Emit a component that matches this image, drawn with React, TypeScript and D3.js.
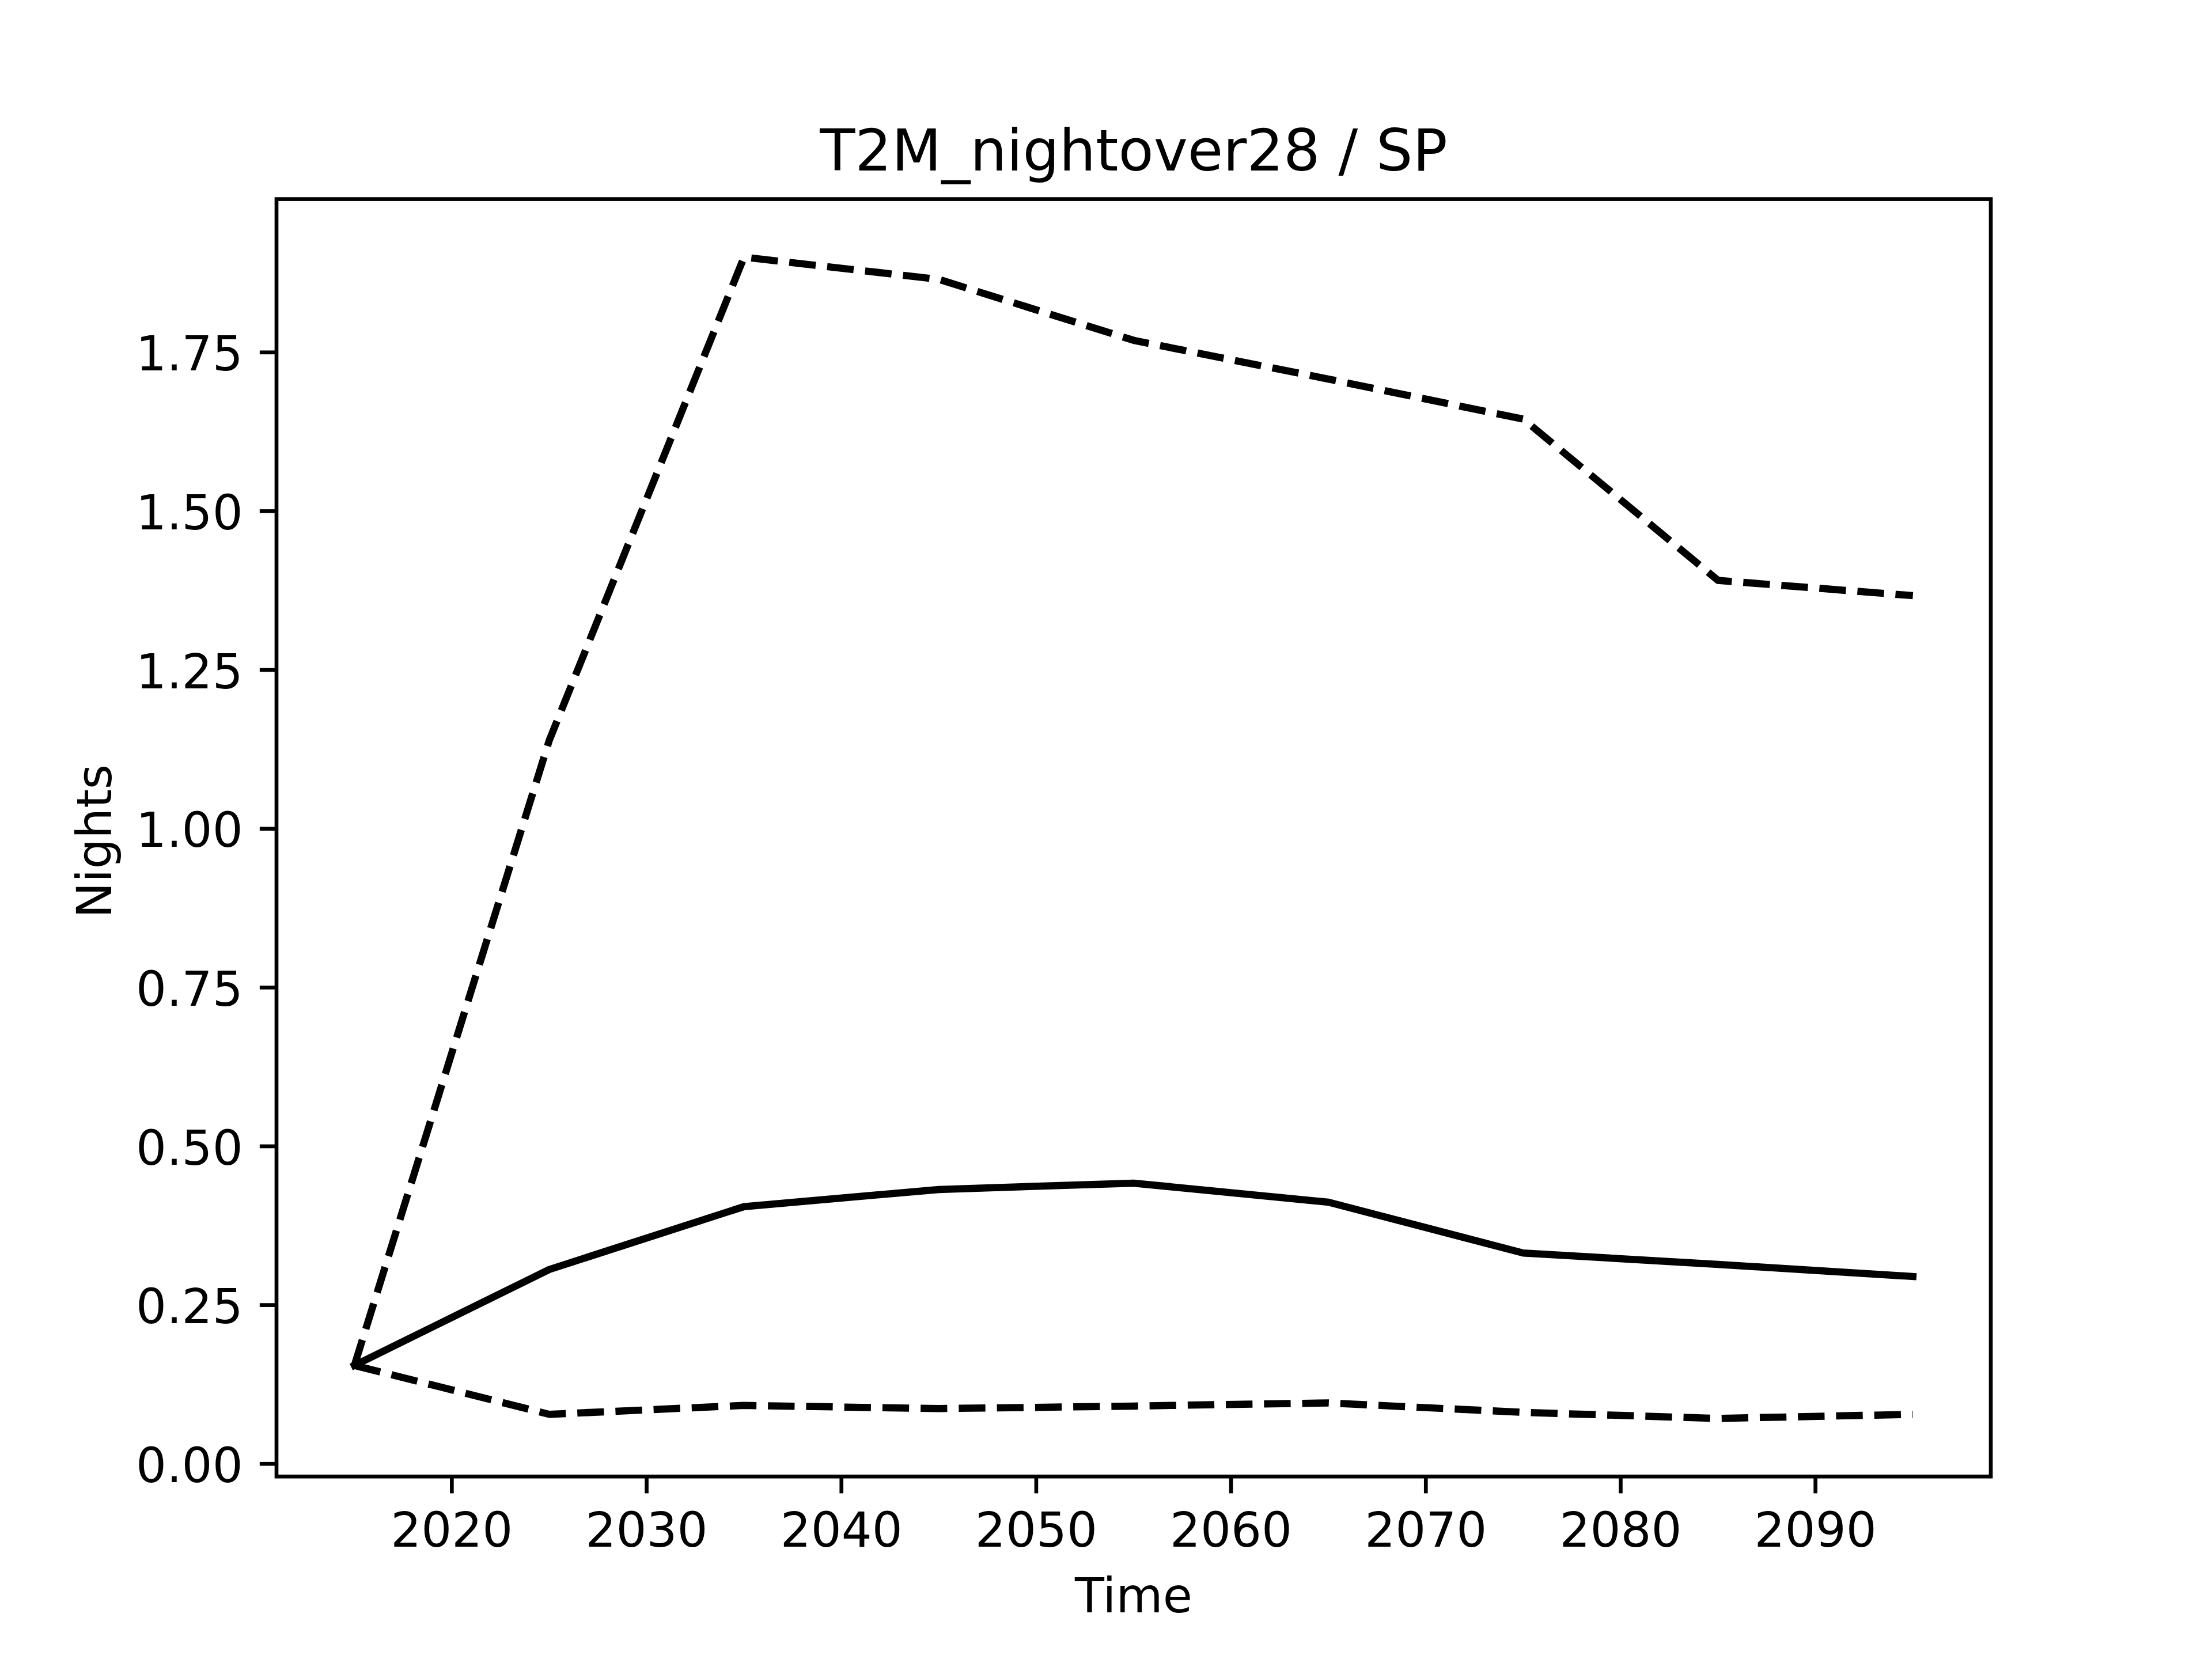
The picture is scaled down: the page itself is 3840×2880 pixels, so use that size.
import React from "react";
import * as d3 from "d3";

const years = [2015, 2025, 2035, 2045, 2055, 2065, 2075, 2085, 2095];
const meanValues = [0.155, 0.306, 0.405, 0.432, 0.442, 0.412, 0.332, 0.314, 0.295];
const upperValues = [0.155, 1.139, 1.900, 1.865, 1.769, 1.708, 1.645, 1.391, 1.367];
const lowerValues = [0.155, 0.078, 0.092, 0.087, 0.091, 0.096, 0.081, 0.0715, 0.078];
const xTicks = [2020, 2030, 2040, 2050, 2060, 2070, 2080, 2090];
const yTicks = [0, 0.25, 0.5, 0.75, 1.0, 1.25, 1.5, 1.75];
const titleText = "T2M_nightover28 / SP";
const xLabel = "Time";
const yLabel = "Nights";

const W = 3840;
const H = 2880;
const DPI = 600;
const pt = (v: number) => (v * DPI) / 72;

export default function App() {
  const left = 0.125 * W;
  const right = 0.9 * W;
  const top = (1 - 0.88) * H;
  const bottom = (1 - 0.11) * H;

  const xExt = d3.extent(years) as [number, number];
  const xPad = (xExt[1] - xExt[0]) * 0.05;
  const allY = [...meanValues, ...upperValues, ...lowerValues];
  const yExt = d3.extent(allY) as [number, number];
  const yPad = (yExt[1] - yExt[0]) * 0.05;

  const x = d3.scaleLinear().domain([xExt[0] - xPad, xExt[1] + xPad]).range([left, right]);
  const y = d3.scaleLinear().domain([yExt[0] - yPad, yExt[1] + yPad]).range([bottom, top]);

  const line = d3
    .line<number>()
    .x((_, i) => x(years[i]))
    .y((d) => y(d));

  const fs = pt(10);
  const titleFs = pt(12);
  const lw = pt(1.5);
  const axLw = pt(0.8);
  const tickLen = pt(3.5);
  const tickPad = pt(3.5);
  const labelPad = pt(4);
  const font = "DejaVu Sans";
  const dash = `${pt(3.7 * 1.5)},${pt(1.6 * 1.5)}`;

  const xTickTop = bottom + tickLen + tickPad;
  const xTickBaseline = xTickTop + 0.76 * fs;
  const xLabelTop = xTickTop + 0.968 * fs + labelPad;
  const xLabelBaseline = xLabelTop + 0.76 * fs;

  const yTickRight = left - tickLen - tickPad;
  const yTickWidth = (3 * 0.636 + 0.318) * fs;
  const yLabelRight = yTickRight - yTickWidth - labelPad;
  const yLabelBaseline = yLabelRight - 0.208 * fs + 7;
  const yMid = (top + bottom) / 2;
  const xMid = (left + right) / 2;

  const fmt = d3.format(".2f");

  return (
    <svg
      width={W}
      height={H}
      viewBox={`0 0 ${W} ${H}`}
      style={{ position: "absolute", left: 0, top: 0, background: "#fff" }}
      fontFamily={font}
    >
      <rect x={0} y={0} width={W} height={H} fill="#fff" />
      <text x={xMid} y={top - pt(6)} fontSize={titleFs} textAnchor="middle" fill="#000">
        {titleText}
      </text>

      <g>
        <path d={line(upperValues) || ""} fill="none" stroke="#000" strokeWidth={lw} strokeDasharray={dash} strokeLinejoin="round" strokeLinecap="butt" />
        <path d={line(meanValues) || ""} fill="none" stroke="#000" strokeWidth={lw} strokeLinejoin="round" strokeLinecap="square" />
        <path d={line(lowerValues) || ""} fill="none" stroke="#000" strokeWidth={lw} strokeDasharray={dash} strokeLinejoin="round" strokeLinecap="butt" />
      </g>

      <rect x={left} y={top} width={right - left} height={bottom - top} fill="none" stroke="#000" strokeWidth={axLw} strokeLinejoin="miter" />

      {xTicks.map((t) => (
        <g key={`x${t}`}>
          <line x1={x(t)} x2={x(t)} y1={bottom} y2={bottom + tickLen} stroke="#000" strokeWidth={axLw} />
          <text x={x(t)} y={xTickBaseline} fontSize={fs} textAnchor="middle" fill="#000">
            {t}
          </text>
        </g>
      ))}
      {yTicks.map((t) => (
        <g key={`y${t}`}>
          <line x1={left} x2={left - tickLen} y1={y(t)} y2={y(t)} stroke="#000" strokeWidth={axLw} />
          <text x={yTickRight} y={y(t) + 0.38 * fs} fontSize={fs} textAnchor="end" fill="#000">
            {fmt(t)}
          </text>
        </g>
      ))}

      <text x={xMid} y={xLabelBaseline} fontSize={fs} textAnchor="middle" fill="#000">
        {xLabel}
      </text>
      <text
        transform={`translate(${yLabelBaseline},${yMid + 6}) rotate(-90)`}
        fontSize={fs}
        textAnchor="middle"
        fill="#000"
      >
        {yLabel}
      </text>
    </svg>
  );
}
